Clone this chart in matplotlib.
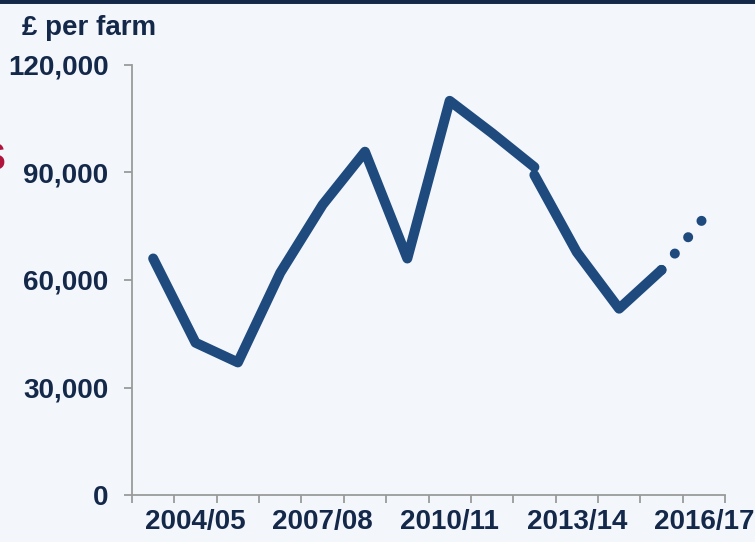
import matplotlib.pyplot as plt
import numpy as np

plt.rcParams['font.family'] = ['Liberation Sans', 'DejaVu Sans']

# farm business income, £ per farm
years = ["2003/04", "2004/05", "2005/06", "2006/07", "2007/08", "2008/09",
         "2009/10", "2010/11", "2011/12", "2012/13", "2013/14", "2014/15",
         "2015/16", "2016/17"]
old_series = [66000, 42500, 37000, 62000, 81000, 95800, 66000, 110000,
              101000, 91500]
new_series = [89300, 67800, 52000, 62800]
forecast = [62800, 77300]

shown_labels = ["2004/05", "2007/08", "2010/11", "2013/14", "2016/17"]

navy = "#14284a"
line_col = "#1f4a7e"
axis_col = "#9a9a9a"
bg = "#f3f7fb"

fig = plt.figure(figsize=(7.55, 5.42), dpi=100, facecolor=bg)
ax = fig.add_axes([132 / 755, 47 / 542, 593 / 755, 430 / 542])
ax.set_facecolor(bg)

x = np.arange(len(years))
ax.plot(x[:10], old_series, color=line_col, lw=7.2,
        solid_capstyle="round", solid_joinstyle="round")
ax.plot(x[9:13], new_series, color=line_col, lw=7.2,
        solid_capstyle="round", solid_joinstyle="round")
ax.plot(x[12:14], forecast, color=line_col, lw=7.2,
        linestyle=(0, (0.01, 2.1)), dash_capstyle="round")

ax.set_xlim(-0.5, len(years) - 0.5)
ax.set_ylim(0, 120000)
ax.set_yticks([0, 30000, 60000, 90000, 120000])
ax.set_yticklabels([f"{v:,}" for v in ax.get_yticks().astype(int)])

# ticks sit between categories, labels every third year
ax.set_xticks(np.arange(-0.5, len(years), 1.0))
ax.set_xticklabels([])
ax.set_xticks([years.index(y) for y in shown_labels], minor=True)
ax.set_xticklabels(shown_labels, minor=True)
ax.tick_params(axis="x", which="minor", length=0, pad=10)
ax.tick_params(axis="x", which="major", length=6, width=1.3, color=axis_col)
ax.tick_params(axis="y", length=6, width=1.3, color=axis_col, pad=11)
for lbl in ax.get_yticklabels() + ax.get_xticklabels(minor=True):
    lbl.set_fontsize(20)
    lbl.set_fontweight("bold")
    lbl.set_color(navy)

for s in ["top", "right"]:
    ax.spines[s].set_visible(False)
for s in ["left", "bottom"]:
    ax.spines[s].set_color(axis_col)
    ax.spines[s].set_linewidth(1.3)

fig.text(22 / 755, 1 - 35 / 542, "£ per farm", fontsize=20, fontweight="bold",
         color=navy, va="baseline", ha="left")
# edge of a neighbouring panel's red text, clipped as in the source
fig.text(6 / 755, 1 - 160 / 542, "S", fontsize=28, fontweight="bold",
         color="#b0143c", va="center", ha="right")

# dark rule across the top
fig.add_artist(plt.Line2D([0, 1], [1, 1], transform=fig.transFigure,
                          color=navy, lw=5))

fig.savefig("out.png", dpi=100, facecolor=bg)
